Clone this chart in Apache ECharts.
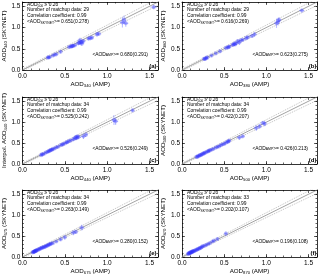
<!DOCTYPE html>
<html><head><meta charset="utf-8">
<script src="https://cdn.jsdelivr.net/npm/echarts@6/dist/echarts.min.js"></script>
<style>html,body{margin:0;padding:0;background:#fff}#c{width:320px;height:276px}</style>
</head><body><div id="c"></div>
<script>
// ---------- data ----------
const panelLetters = ['a', 'b', 'c', 'd', 'e', 'f'];
const wavelengths = ['340', '380', '440', '500', '675', '870'];
const yPrefix = ['', '', 'Interpol. ', '', '', ''];
const thresholdWl = '500';
const thresholdVal = '0.20';
const matchups = [29, 29, 34, 34, 34, 33];
const correlations = ['0.99', '0.99', '0.99', '0.99', '0.99', '0.99'];
const meanSkynet = ['0.651(0.278)', '0.616(0.269)', '0.525(0.242)', '0.422(0.207)', '0.263(0.149)', '0.202(0.107)'];
const meanAmp = ['0.680(0.291)', '0.623(0.275)', '0.526(0.249)', '0.426(0.213)', '0.280(0.152)', '0.196(0.108)'];
const tickLabels = ['0.0', '0.5', '1.0', '1.5'];
const refLine = [[0, 0], [1.6, 1.6]];
const refUpper = [[0, 0.02], [1.6, 1.68]];
const refLower = [[0, -0.02], [1.6, 1.52]];

const ampA = [0.30,0.31,0.32,0.36,0.38,0.40,0.45,0.55,0.57,0.58,0.59,0.60,0.62,0.66,0.67,0.68,0.69,0.70,0.70,0.72,0.78,0.80,0.82,0.88,0.90,1.18,1.20,1.22,1.55];
const skyA = [0.29,0.30,0.30,0.34,0.36,0.37,0.43,0.54,0.55,0.56,0.56,0.57,0.58,0.63,0.64,0.70,0.65,0.66,0.62,0.68,0.74,0.75,0.76,0.84,0.85,1.12,1.18,1.10,1.48];
const ampErrA = [0.02,0.01,0.02,0.02,0.01,0.02,0.02,0.02,0.01,0.02,0.02,0.02,0.02,0.03,0.02,0.03,0.02,0.02,0.03,0.02,0.02,0.03,0.02,0.02,0.03,0.03,0.02,0.03,0.04];
const skyErrA = [0.03,0.02,0.03,0.03,0.02,0.03,0.04,0.03,0.02,0.03,0.04,0.03,0.03,0.05,0.04,0.06,0.05,0.04,0.05,0.04,0.04,0.05,0.04,0.05,0.04,0.12,0.10,0.08,0.05];

const ampB = [0.26,0.27,0.28,0.29,0.30,0.35,0.40,0.45,0.52,0.54,0.55,0.56,0.60,0.61,0.62,0.63,0.64,0.66,0.68,0.70,0.72,0.76,0.78,0.83,0.86,1.12,1.14,1.15,1.42];
const skyB = [0.26,0.26,0.27,0.29,0.29,0.34,0.39,0.44,0.52,0.53,0.54,0.55,0.59,0.60,0.62,0.60,0.63,0.68,0.65,0.70,0.71,0.75,0.77,0.80,0.84,1.10,1.14,1.18,1.40];
const ampErrB = [0.01,0.02,0.01,0.02,0.01,0.02,0.02,0.02,0.02,0.01,0.02,0.02,0.02,0.01,0.02,0.02,0.03,0.02,0.02,0.03,0.02,0.02,0.02,0.03,0.02,0.03,0.02,0.03,0.03];
const skyErrB = [0.02,0.03,0.02,0.03,0.02,0.03,0.03,0.04,0.03,0.02,0.03,0.04,0.03,0.02,0.05,0.03,0.04,0.04,0.06,0.04,0.03,0.05,0.04,0.04,0.05,0.11,0.09,0.06,0.04];

const ampC = [0.22,0.23,0.24,0.26,0.28,0.30,0.31,0.32,0.33,0.34,0.35,0.36,0.38,0.40,0.42,0.45,0.47,0.48,0.50,0.52,0.53,0.55,0.57,0.60,0.62,0.63,0.64,0.65,0.66,0.72,0.75,1.08,1.10,1.30];
const skyC = [0.21,0.23,0.23,0.25,0.28,0.29,0.31,0.31,0.33,0.34,0.34,0.36,0.37,0.40,0.41,0.45,0.46,0.48,0.49,0.52,0.52,0.55,0.56,0.59,0.61,0.64,0.62,0.66,0.64,0.66,0.70,1.05,1.02,1.28];
const ampErrC = [0.01,0.01,0.02,0.01,0.02,0.01,0.01,0.02,0.01,0.02,0.01,0.02,0.01,0.02,0.02,0.01,0.02,0.02,0.01,0.02,0.02,0.02,0.02,0.02,0.02,0.03,0.02,0.02,0.03,0.03,0.02,0.03,0.03,0.02];
const skyErrC = [0.02,0.02,0.03,0.02,0.03,0.02,0.03,0.02,0.02,0.03,0.02,0.03,0.02,0.03,0.03,0.02,0.03,0.03,0.02,0.04,0.03,0.03,0.03,0.04,0.03,0.05,0.04,0.03,0.04,0.06,0.05,0.12,0.09,0.04];

const ampD = [0.17,0.18,0.19,0.20,0.21,0.22,0.23,0.24,0.25,0.26,0.27,0.28,0.30,0.31,0.32,0.33,0.35,0.37,0.40,0.42,0.44,0.46,0.48,0.50,0.52,0.54,0.55,0.56,0.68,0.72,0.88,0.92,0.96,0.98];
const skyD = [0.17,0.17,0.19,0.19,0.21,0.21,0.22,0.24,0.24,0.26,0.26,0.28,0.29,0.31,0.31,0.33,0.34,0.36,0.39,0.41,0.42,0.45,0.47,0.48,0.51,0.53,0.54,0.56,0.63,0.66,0.86,0.90,0.98,0.96];
const ampErrD = [0.01,0.01,0.01,0.01,0.01,0.01,0.01,0.01,0.01,0.01,0.01,0.01,0.01,0.02,0.01,0.02,0.01,0.02,0.02,0.02,0.02,0.02,0.02,0.02,0.02,0.02,0.02,0.02,0.03,0.02,0.03,0.02,0.03,0.02];
const skyErrD = [0.02,0.01,0.02,0.02,0.01,0.02,0.02,0.01,0.02,0.02,0.02,0.01,0.02,0.02,0.03,0.02,0.02,0.03,0.02,0.03,0.02,0.03,0.02,0.03,0.03,0.02,0.04,0.03,0.05,0.04,0.07,0.05,0.04,0.06];

const ampE = [0.12,0.13,0.13,0.14,0.14,0.15,0.15,0.16,0.16,0.17,0.18,0.19,0.20,0.21,0.22,0.23,0.24,0.25,0.26,0.27,0.28,0.29,0.30,0.31,0.32,0.33,0.34,0.36,0.40,0.45,0.50,0.60,0.63,0.70];
const skyE = [0.11,0.12,0.12,0.13,0.13,0.14,0.14,0.15,0.15,0.16,0.17,0.18,0.19,0.20,0.21,0.22,0.23,0.23,0.24,0.25,0.26,0.27,0.28,0.29,0.30,0.31,0.32,0.33,0.37,0.42,0.47,0.58,0.60,0.70];
const ampErrE = [0.01,0.01,0.01,0.01,0.01,0.01,0.01,0.01,0.01,0.01,0.01,0.01,0.01,0.01,0.01,0.01,0.01,0.01,0.01,0.01,0.01,0.01,0.01,0.01,0.01,0.01,0.01,0.01,0.02,0.02,0.02,0.03,0.02,0.03];
const skyErrE = [0.01,0.01,0.02,0.01,0.01,0.02,0.01,0.02,0.01,0.02,0.01,0.02,0.01,0.02,0.02,0.01,0.02,0.02,0.01,0.02,0.02,0.02,0.02,0.02,0.03,0.02,0.02,0.03,0.03,0.04,0.05,0.06,0.05,0.07];

const ampF = [0.07,0.08,0.08,0.09,0.09,0.10,0.10,0.11,0.11,0.12,0.12,0.13,0.13,0.14,0.15,0.16,0.17,0.18,0.19,0.20,0.21,0.22,0.23,0.24,0.25,0.27,0.29,0.31,0.33,0.36,0.38,0.42,0.52];
const skyF = [0.07,0.08,0.09,0.09,0.10,0.10,0.11,0.11,0.12,0.12,0.13,0.13,0.14,0.14,0.15,0.16,0.17,0.18,0.19,0.20,0.21,0.22,0.23,0.25,0.26,0.27,0.29,0.31,0.33,0.37,0.39,0.43,0.56];
const ampErrF = [0.01,0.01,0.01,0.01,0.01,0.01,0.01,0.01,0.01,0.01,0.01,0.01,0.01,0.01,0.01,0.01,0.01,0.01,0.01,0.01,0.01,0.01,0.01,0.01,0.01,0.01,0.01,0.01,0.01,0.01,0.02,0.02,0.02];
const skyErrF = [0.01,0.01,0.01,0.01,0.01,0.01,0.01,0.01,0.01,0.01,0.01,0.01,0.02,0.01,0.01,0.02,0.01,0.02,0.01,0.02,0.02,0.01,0.02,0.02,0.02,0.02,0.03,0.02,0.03,0.03,0.03,0.04,0.05];

// ---------- layout ----------
const FONT = 'Liberation Sans, Arial, sans-serif';
const colLeft = [22, 182];
const rowTop = [2, 97, 190];
const rowHeight = [68, 67, 67];
const plotWidth = 136;
const AX_MIN = 0, AX_MAX = 1.6;

const panels = [
  [ampA, skyA, ampErrA, skyErrA],
  [ampB, skyB, ampErrB, skyErrB],
  [ampC, skyC, ampErrC, skyErrC],
  [ampD, skyD, ampErrD, skyErrD],
  [ampE, skyE, ampErrE, skyErrE],
  [ampF, skyF, ampErrF, skyErrF]
];

const nameRich = {
  n: { fontSize: 6.2, fontFamily: FONT, color: '#000' },
  s: { fontSize: 4.2, fontFamily: FONT, color: '#000', padding: [3, 0, 0, 0] }
};
const annRich = {
  n: { fontSize: 4.9, fontFamily: FONT, fill: '#000', color: '#000' },
  s: { fontSize: 3.4, fontFamily: FONT, fill: '#000', color: '#000', padding: [2.5, 0, 0, 0] }
};

function labelFmt(v) {
  const k = Math.round(v * 10);
  if (Math.abs(v * 10 - k) > 1e-6) return '';
  if (k % 5 !== 0 || k > 15) return '';
  return tickLabels[k / 5];
}

function errRender(params, api) {
  const x = api.value(0), y = api.value(1), xe = api.value(2), ye = api.value(3);
  const a = api.coord([x - xe, y]), b = api.coord([x + xe, y]);
  const c = api.coord([x, y - ye]), d = api.coord([x, y + ye]);
  const st = { stroke: 'rgba(120,130,255,0.5)', lineWidth: 1.1 };
  return {
    type: 'group',
    children: [
      { type: 'line', shape: { x1: a[0], y1: a[1], x2: b[0], y2: b[1] }, style: st },
      { type: 'line', shape: { x1: c[0], y1: c[1], x2: d[0], y2: d[1] }, style: st }
    ]
  };
}

const grid = [], xAxis = [], yAxis = [], series = [], graphic = [];

panels.forEach((pd, p) => {
  const col = p % 2, row = Math.floor(p / 2);
  const gl = colLeft[col], gt = rowTop[row], gh = rowHeight[row];
  grid.push({ left: gl, top: gt, width: plotWidth, height: gh, show: false });
  const wl = wavelengths[p];
  const base = { gridIndex: p, type: 'value', min: AX_MIN, max: AX_MAX, splitLine: { show: false } };
  const lineSt = { color: '#000', width: 0.8 };
  xAxis.push(Object.assign({}, base, {
    position: 'bottom', interval: 0.1,
    axisLine: { show: true, onZero: false, lineStyle: lineSt },
    axisTick: { show: true, inside: true, length: 1.5, lineStyle: { color: '#000', width: 0.6 } },
    axisLabel: { show: true, formatter: labelFmt, fontSize: 6.5, fontFamily: FONT, color: '#000', margin: 3 },
    name: '{n|AOD}{s|' + wl + '}{n| (AMP)}', nameLocation: 'middle', nameGap: 10,
    nameTextStyle: { rich: nameRich }
  }));
  xAxis.push(Object.assign({}, base, {
    position: 'bottom', interval: 0.5,
    axisLine: { show: false, onZero: false },
    axisTick: { show: true, inside: true, length: 3, lineStyle: { color: '#000', width: 0.6 } },
    axisLabel: { show: false }
  }));
  xAxis.push(Object.assign({}, base, {
    position: 'top', interval: 0.1,
    axisLine: { show: true, onZero: false, lineStyle: lineSt },
    axisTick: { show: true, inside: true, length: 1.5, lineStyle: { color: '#000', width: 0.6 } },
    axisLabel: { show: false }
  }));
  xAxis.push(Object.assign({}, base, {
    position: 'top', interval: 0.5,
    axisLine: { show: false, onZero: false },
    axisTick: { show: true, inside: true, length: 3, lineStyle: { color: '#000', width: 0.6 } },
    axisLabel: { show: false }
  }));
  yAxis.push(Object.assign({}, base, {
    position: 'left', interval: 0.1,
    axisLine: { show: true, onZero: false, lineStyle: lineSt },
    axisTick: { show: true, inside: true, length: 1.5, lineStyle: { color: '#000', width: 0.6 } },
    axisLabel: { show: true, formatter: labelFmt, fontSize: 6.5, fontFamily: FONT, color: '#000', margin: 2 },
    name: '{n|' + yPrefix[p] + 'AOD}{s|' + wl + '}{n| (SKYNET)}', nameLocation: 'middle', nameGap: 13, nameRotate: 90,
    nameTextStyle: { rich: nameRich }
  }));
  yAxis.push(Object.assign({}, base, {
    position: 'left', interval: 0.5,
    axisLine: { show: false, onZero: false },
    axisTick: { show: true, inside: true, length: 3, lineStyle: { color: '#000', width: 0.6 } },
    axisLabel: { show: false }
  }));
  yAxis.push(Object.assign({}, base, {
    position: 'right', interval: 0.1,
    axisLine: { show: true, onZero: false, lineStyle: lineSt },
    axisTick: { show: true, inside: true, length: 1.5, lineStyle: { color: '#000', width: 0.6 } },
    axisLabel: { show: false }
  }));
  yAxis.push(Object.assign({}, base, {
    position: 'right', interval: 0.5,
    axisLine: { show: false, onZero: false },
    axisTick: { show: true, inside: true, length: 3, lineStyle: { color: '#000', width: 0.6 } },
    axisLabel: { show: false }
  }));

  const xi = p * 4, yi = p * 4;
  series.push({ type: 'line', xAxisIndex: xi, yAxisIndex: yi, data: refUpper, symbol: 'none', silent: true, z: 1,
    lineStyle: { color: '#b0b0b0', width: 0.8, type: [1, 1] } });
  series.push({ type: 'line', xAxisIndex: xi, yAxisIndex: yi, data: refLower, symbol: 'none', silent: true, z: 1,
    lineStyle: { color: '#b0b0b0', width: 0.8, type: [1, 1] } });
  series.push({ type: 'line', xAxisIndex: xi, yAxisIndex: yi, data: refLine, symbol: 'none', silent: true, z: 1,
    lineStyle: { color: '#8a8a8a', width: 0.8 } });

  const [amp, sky, ampErr, skyErr] = pd;
  series.push({ type: 'custom', xAxisIndex: xi, yAxisIndex: yi, renderItem: errRender, clip: true, z: 2,
    data: amp.map((v, i) => [v, sky[i], ampErr[i], skyErr[i]]), silent: true });
  series.push({ type: 'scatter', xAxisIndex: xi, yAxisIndex: yi, z: 3, symbolSize: 4.2, silent: true,
    itemStyle: { color: 'rgba(50,50,255,0.38)' },
    data: amp.map((v, i) => [v, sky[i]]) });

  const tx = gl + 5;
  const ann = [
    '{n|AOD}{s|' + thresholdWl + '}{n| \u2265 ' + thresholdVal + '}',
    '{n|Number of matchup data: ' + matchups[p] + '}',
    '{n|Correlation coefficient: ' + correlations[p] + '}',
    '{n|<AOD}{s|SKYNET}{n|>= ' + meanSkynet[p] + '}'
  ];
  const annY = [0.3, 5.3, 11, 17];
  ann.forEach((t, k) => {
    graphic.push({ type: 'text', x: tx, y: gt + annY[k], silent: true,
      style: { text: t, rich: annRich, fontSize: 4.9, fontFamily: FONT, fill: '#000' } });
  });
  graphic.push({ type: 'text', x: gl + plotWidth - 10, y: gt + gh - 18.5, silent: true,
    style: { text: '{n|<AOD}{s|AMP}{n|>= ' + meanAmp[p] + '}', rich: annRich, align: 'right', fontSize: 4.9, fontFamily: FONT, fill: '#000' } });
  graphic.push({ type: 'text', x: gl + plotWidth - 1.5, y: gt + gh - 1, silent: true,
    style: { text: '(' + panelLetters[p] + ')', align: 'right', verticalAlign: 'bottom', fontSize: 6, fontWeight: 'bold', fontFamily: FONT, fill: '#000' } });
});

const chart = echarts.init(document.getElementById('c'), null, { renderer: 'canvas' });
chart.setOption({
  animation: false,
  backgroundColor: '#fff',
  textStyle: { fontFamily: FONT },
  grid, xAxis, yAxis, series, graphic
});
</script></body></html>
